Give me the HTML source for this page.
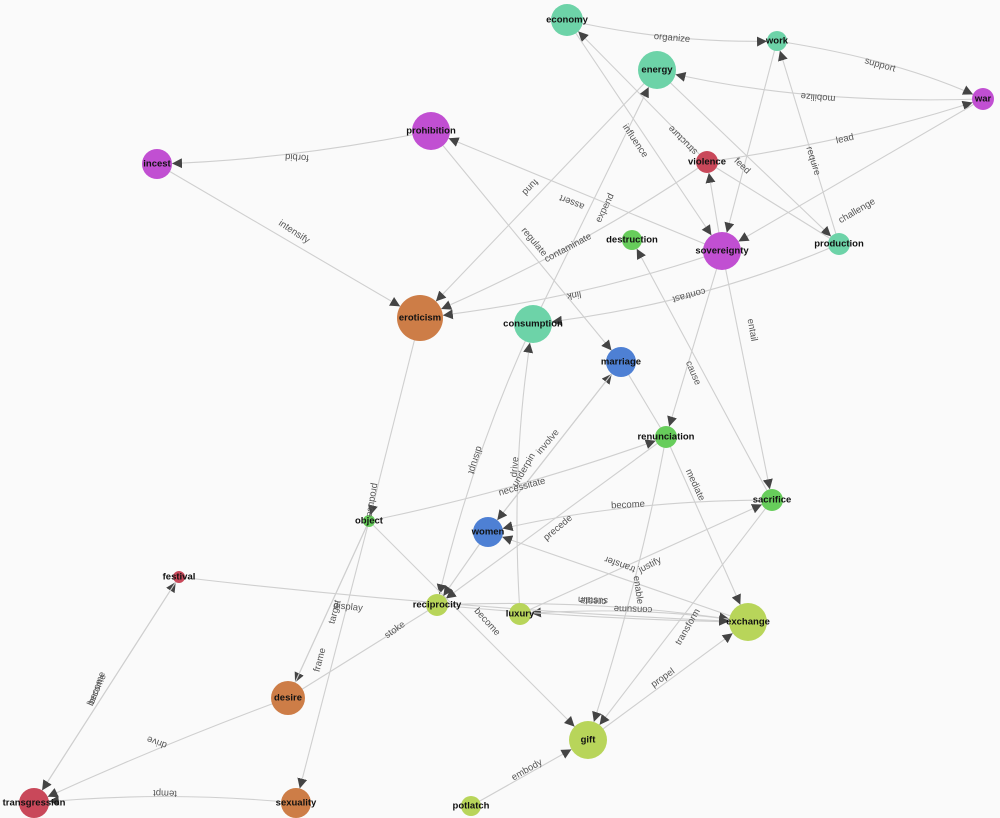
<!DOCTYPE html>
<html><head><meta charset="utf-8"><style>
html,body{margin:0;padding:0;background:#fafafa;}
svg{display:block;font-family:"Liberation Sans",sans-serif;}
.e{stroke:#cfcfcf;stroke-width:1.1;fill:none;}
.l{font-size:9.5px;fill:#555;text-anchor:middle;dominant-baseline:middle;}
.n{font-size:9.5px;font-weight:bold;fill:#111;text-anchor:middle;dominant-baseline:middle;}
</style></head><body>
<svg width="1000" height="818" viewBox="0 0 1000 818" xmlns="http://www.w3.org/2000/svg">
<defs>
<marker id="m6" viewBox="0 -5 10 10" refX="16" refY="0" markerWidth="10" markerHeight="10" markerUnits="userSpaceOnUse" orient="auto"><path d="M0,-5L10,0L0,5Z" fill="#444"/></marker>
<marker id="m10" viewBox="0 -5 10 10" refX="20" refY="0" markerWidth="10" markerHeight="10" markerUnits="userSpaceOnUse" orient="auto"><path d="M0,-5L10,0L0,5Z" fill="#444"/></marker>
<marker id="m11" viewBox="0 -5 10 10" refX="21" refY="0" markerWidth="10" markerHeight="10" markerUnits="userSpaceOnUse" orient="auto"><path d="M0,-5L10,0L0,5Z" fill="#444"/></marker>
<marker id="m15" viewBox="0 -5 10 10" refX="25" refY="0" markerWidth="10" markerHeight="10" markerUnits="userSpaceOnUse" orient="auto"><path d="M0,-5L10,0L0,5Z" fill="#444"/></marker>
<marker id="m16" viewBox="0 -5 10 10" refX="26" refY="0" markerWidth="10" markerHeight="10" markerUnits="userSpaceOnUse" orient="auto"><path d="M0,-5L10,0L0,5Z" fill="#444"/></marker>
<marker id="m17" viewBox="0 -5 10 10" refX="27" refY="0" markerWidth="10" markerHeight="10" markerUnits="userSpaceOnUse" orient="auto"><path d="M0,-5L10,0L0,5Z" fill="#444"/></marker>
<marker id="m19" viewBox="0 -5 10 10" refX="29" refY="0" markerWidth="10" markerHeight="10" markerUnits="userSpaceOnUse" orient="auto"><path d="M0,-5L10,0L0,5Z" fill="#444"/></marker>
<marker id="m23" viewBox="0 -5 10 10" refX="33" refY="0" markerWidth="10" markerHeight="10" markerUnits="userSpaceOnUse" orient="auto"><path d="M0,-5L10,0L0,5Z" fill="#444"/></marker>
</defs>
<g>
<path class="e" d="M567,20 Q672,44 777,41" marker-end="url(#m10)"/>
<path class="e" d="M777,41 Q900,60 983,99" marker-end="url(#m11)"/>
<path class="e" d="M983,99 Q800,105 657,70" marker-end="url(#m19)"/>
<path class="e" d="M707,162 Q860,140 983,99" marker-end="url(#m11)"/>
<path class="e" d="M839,244 L777,41" marker-end="url(#m10)"/>
<path class="e" d="M707,162 L567,20" marker-end="url(#m16)"/>
<path class="e" d="M567,20 L722,251" marker-end="url(#m19)"/>
<path class="e" d="M657,70 L839,244" marker-end="url(#m11)"/>
<path class="e" d="M707,162 L839,244"/>
<path class="e" d="M722,251 L707,162" marker-end="url(#m11)"/>
<path class="e" d="M777,41 L722,251" marker-end="url(#m19)"/>
<path class="e" d="M983,99 L722,251" marker-end="url(#m19)"/>
<path class="e" d="M657,70 L420,318" marker-end="url(#m23)"/>
<path class="e" d="M533,324 L657,70" marker-end="url(#m19)"/>
<path class="e" d="M707,162 Q580,250 420,318" marker-end="url(#m23)"/>
<path class="e" d="M722,251 L431,131" marker-end="url(#m19)"/>
<path class="e" d="M431,131 L621,362" marker-end="url(#m15)"/>
<path class="e" d="M722,251 Q580,300 420,318" marker-end="url(#m23)"/>
<path class="e" d="M839,244 Q700,305 533,324" marker-end="url(#m19)"/>
<path class="e" d="M431,131 Q290,160 157,164" marker-end="url(#m15)"/>
<path class="e" d="M157,164 L420,318" marker-end="url(#m23)"/>
<path class="e" d="M722,251 L666,437" marker-end="url(#m11)"/>
<path class="e" d="M772,500 L632,240" marker-end="url(#m10)"/>
<path class="e" d="M722,251 L772,500" marker-end="url(#m11)"/>
<path class="e" d="M621,362 L666,437"/>
<path class="e" d="M666,437 L748,622" marker-end="url(#m19)"/>
<path class="e" d="M369,521 Q520,490 666,437" marker-end="url(#m11)"/>
<path class="e" d="M488,532 L621,362" marker-end="url(#m15)"/>
<path class="e" d="M621,362 L488,532" marker-end="url(#m15)"/>
<path class="e" d="M520,614 Q510,460 533,324" marker-end="url(#m19)"/>
<path class="e" d="M533,324 Q470,460 437,605" marker-end="url(#m11)"/>
<path class="e" d="M772,500 Q620,500 488,532" marker-end="url(#m15)"/>
<path class="e" d="M666,437 L437,605" marker-end="url(#m11)"/>
<path class="e" d="M748,622 L488,532" marker-end="url(#m15)"/>
<path class="e" d="M520,614 L772,500" marker-end="url(#m11)"/>
<path class="e" d="M666,437 Q640,580 588,740" marker-end="url(#m19)"/>
<path class="e" d="M437,605 Q600,598 748,622" marker-end="url(#m19)"/>
<path class="e" d="M748,622 Q640,605 520,614" marker-end="url(#m11)"/>
<path class="e" d="M437,605 Q600,620 748,622"/>
<path class="e" d="M772,500 L588,740" marker-end="url(#m19)"/>
<path class="e" d="M588,740 L748,622" marker-end="url(#m19)"/>
<path class="e" d="M471,806 L588,740" marker-end="url(#m19)"/>
<path class="e" d="M369,521 L588,740" marker-end="url(#m19)"/>
<path class="e" d="M420,318 L369,521" marker-end="url(#m6)"/>
<path class="e" d="M369,521 L288,698" marker-end="url(#m17)"/>
<path class="e" d="M369,521 L296,803" marker-end="url(#m15)"/>
<path class="e" d="M288,698 L369,521"/>
<path class="e" d="M488,532 L437,605" marker-end="url(#m11)"/>
<path class="e" d="M288,698 L437,605"/>
<path class="e" d="M179,577 Q460,610 748,622" marker-end="url(#m19)"/>
<path class="e" d="M34,803 L179,577" marker-end="url(#m6)"/>
<path class="e" d="M179,577 L34,803" marker-end="url(#m15)"/>
<path class="e" d="M288,698 Q160,745 34,803" marker-end="url(#m15)"/>
<path class="e" d="M296,803 Q165,790 34,803" marker-end="url(#m15)"/>
</g>
<g>
<circle cx="567" cy="20" r="16" fill="#6dd3a8"/>
<circle cx="777" cy="41" r="10" fill="#6dd3a8"/>
<circle cx="657" cy="70" r="19" fill="#6dd3a8"/>
<circle cx="983" cy="99" r="11" fill="#c14fd2"/>
<circle cx="431" cy="131" r="19" fill="#c14fd2"/>
<circle cx="157" cy="164" r="15" fill="#c14fd2"/>
<circle cx="707" cy="162" r="11" fill="#c9485a"/>
<circle cx="632" cy="240" r="10" fill="#67cd5b"/>
<circle cx="722" cy="251" r="19" fill="#c14fd2"/>
<circle cx="839" cy="244" r="11" fill="#6dd3a8"/>
<circle cx="420" cy="318" r="23" fill="#cd7d47"/>
<circle cx="533" cy="324" r="19" fill="#6dd3a8"/>
<circle cx="621" cy="362" r="15" fill="#4e80d4"/>
<circle cx="666" cy="437" r="11" fill="#67cd5b"/>
<circle cx="772" cy="500" r="11" fill="#67cd5b"/>
<circle cx="369" cy="521" r="6" fill="#67cd5b"/>
<circle cx="488" cy="532" r="15" fill="#4e80d4"/>
<circle cx="179" cy="577" r="6" fill="#c9485a"/>
<circle cx="437" cy="605" r="11" fill="#b8d55a"/>
<circle cx="520" cy="614" r="11" fill="#b8d55a"/>
<circle cx="748" cy="622" r="19" fill="#b8d55a"/>
<circle cx="288" cy="698" r="17" fill="#cd7d47"/>
<circle cx="588" cy="740" r="19" fill="#b8d55a"/>
<circle cx="34" cy="803" r="15" fill="#c9485a"/>
<circle cx="296" cy="803" r="15" fill="#cd7d47"/>
<circle cx="471" cy="806" r="10" fill="#b8d55a"/>
</g>
<g>
<text class="l" transform="translate(672,38) rotate(5)">organize</text>
<text class="l" transform="translate(880,65) rotate(16)">support</text>
<text class="l" transform="translate(818,97) rotate(185)">mobilize</text>
<text class="l" transform="translate(845,139) rotate(-13)">lead</text>
<text class="l" transform="translate(813,161) rotate(73)">require</text>
<text class="l" transform="translate(683,140) rotate(225)">structure</text>
<text class="l" transform="translate(635,141) rotate(56)">influence</text>
<text class="l" transform="translate(742,166) rotate(44)">feed</text>
<text class="l" transform="translate(857,211) rotate(-30)">challenge</text>
<text class="l" transform="translate(530,187) rotate(134)">fund</text>
<text class="l" transform="translate(605,208) rotate(-64)">expend</text>
<text class="l" transform="translate(568,248) rotate(-28)">contaminate</text>
<text class="l" transform="translate(572,202) rotate(202)">assert</text>
<text class="l" transform="translate(534,242) rotate(50)">regulate</text>
<text class="l" transform="translate(574,295) rotate(170)">link</text>
<text class="l" transform="translate(689,295) rotate(165)">contrast</text>
<text class="l" transform="translate(297,157) rotate(183)">forbid</text>
<text class="l" transform="translate(294,232) rotate(33)">intensify</text>
<text class="l" transform="translate(693,373) rotate(67)">cause</text>
<text class="l" transform="translate(752,330) rotate(80)">entail</text>
<text class="l" transform="translate(695,485) rotate(65)">mediate</text>
<text class="l" transform="translate(522,487) rotate(-15)">necessitate</text>
<text class="l" transform="translate(548,442) rotate(-50)">involve</text>
<text class="l" transform="translate(524,470) rotate(-60)">underpin</text>
<text class="l" transform="translate(515,467) rotate(-85)">drive</text>
<text class="l" transform="translate(475,460) rotate(108)">disrupt</text>
<text class="l" transform="translate(628,505) rotate(-3)">become</text>
<text class="l" transform="translate(558,528) rotate(-40)">precede</text>
<text class="l" transform="translate(620,564) rotate(200)">transfer</text>
<text class="l" transform="translate(650,565) rotate(-27)">justify</text>
<text class="l" transform="translate(638,590) rotate(82)">enable</text>
<text class="l" transform="translate(593,600) rotate(183)">sustain</text>
<text class="l" transform="translate(593,601) rotate(183)">create</text>
<text class="l" transform="translate(633,609) rotate(182)">consume</text>
<text class="l" transform="translate(688,627) rotate(-60)">transform</text>
<text class="l" transform="translate(663,678) rotate(-35)">propel</text>
<text class="l" transform="translate(527,770) rotate(-30)">embody</text>
<text class="l" transform="translate(487,622) rotate(48)">become</text>
<text class="l" transform="translate(372,500) rotate(100)">produce</text>
<text class="l" transform="translate(335,612) rotate(-75)">target</text>
<text class="l" transform="translate(320,660) rotate(-75)">frame</text>
<text class="l" transform="translate(348,607) rotate(6)">display</text>
<text class="l" transform="translate(395,630) rotate(-35)">stoke</text>
<text class="l" transform="translate(97,688) rotate(-70)">become</text>
<text class="l" transform="translate(97,690) rotate(-66)">become</text>
<text class="l" transform="translate(157,742) rotate(200)">drive</text>
<text class="l" transform="translate(165,793) rotate(182)">tempt</text>
</g>
<g>
<text class="n" x="567" y="20">economy</text>
<text class="n" x="777" y="41">work</text>
<text class="n" x="657" y="70">energy</text>
<text class="n" x="983" y="99">war</text>
<text class="n" x="431" y="131">prohibition</text>
<text class="n" x="157" y="164">incest</text>
<text class="n" x="707" y="162">violence</text>
<text class="n" x="632" y="240">destruction</text>
<text class="n" x="722" y="251">sovereignty</text>
<text class="n" x="839" y="244">production</text>
<text class="n" x="420" y="318">eroticism</text>
<text class="n" x="533" y="324">consumption</text>
<text class="n" x="621" y="362">marriage</text>
<text class="n" x="666" y="437">renunciation</text>
<text class="n" x="772" y="500">sacrifice</text>
<text class="n" x="369" y="521">object</text>
<text class="n" x="488" y="532">women</text>
<text class="n" x="179" y="577">festival</text>
<text class="n" x="437" y="605">reciprocity</text>
<text class="n" x="520" y="614">luxury</text>
<text class="n" x="748" y="622">exchange</text>
<text class="n" x="288" y="698">desire</text>
<text class="n" x="588" y="740">gift</text>
<text class="n" x="34" y="803">transgression</text>
<text class="n" x="296" y="803">sexuality</text>
<text class="n" x="471" y="806">potlatch</text>
</g>
</svg>
</body></html>
